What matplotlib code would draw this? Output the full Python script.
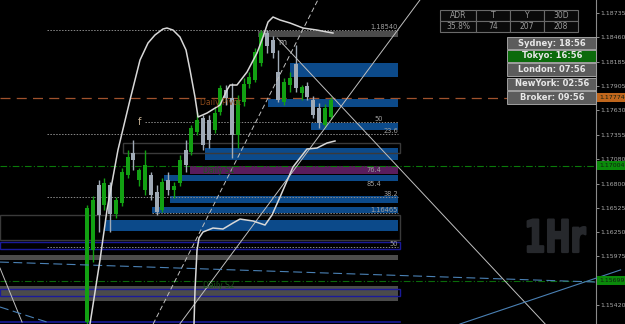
import matplotlib
matplotlib.use("Agg")
import matplotlib.pyplot as plt
from matplotlib.patches import Rectangle
from matplotlib.transforms import blended_transform_factory, Affine2D
from matplotlib import patheffects
import numpy as np

# ---------------- data ----------------
opens = [1.15228, 1.16046, 1.16783, 1.16556, 1.16783, 1.16454, 1.16579, 1.16897, 1.17147, 1.16840,
         1.16727, 1.16897, 1.16704, 1.16500, 1.16840, 1.16727, 1.16806, 1.17181, 1.17158, 1.17385,
         1.17544, 1.17521, 1.17408, 1.17612, 1.17862, 1.17771, 1.17351, 1.17725, 1.17930, 1.17975,
         1.18168, 1.18508, 1.18429, 1.18066, 1.17725, 1.17918, 1.18157, 1.17827, 1.17907, 1.17748,
         1.17657, 1.17464, 1.17555]
highs = [1.16556, 1.16659, 1.16840, 1.16863, 1.16817, 1.16647, 1.16976, 1.17181, 1.17294, 1.16976,
         1.17181, 1.16931, 1.16783, 1.16863, 1.16931, 1.16817, 1.17124, 1.17294, 1.17464, 1.17612,
         1.17578, 1.17578, 1.17657, 1.17918, 1.17918, 1.17941, 1.17805, 1.17998, 1.18066, 1.18338,
         1.18542, 1.18542, 1.18474, 1.18316, 1.17998, 1.18066, 1.18372, 1.17918, 1.17952, 1.17793,
         1.17714, 1.17703, 1.17782]
lows = [1.15209, 1.15909, 1.16250, 1.16500, 1.16250, 1.16409, 1.16545, 1.16863, 1.16954, 1.16772,
        1.16670, 1.16613, 1.16443, 1.16477, 1.16670, 1.16636, 1.16772, 1.16931, 1.17124, 1.17351,
        1.17181, 1.17203, 1.17374, 1.17578, 1.17691, 1.17090, 1.17203, 1.17680, 1.17884, 1.17952,
        1.18134, 1.18281, 1.18225, 1.17725, 1.17691, 1.17839, 1.17839, 1.17748, 1.17748, 1.17544,
        1.17430, 1.17430, 1.17532]
closes = [1.16522, 1.16613, 1.16443, 1.16806, 1.16454, 1.16613, 1.16931, 1.17101, 1.17067, 1.16954,
          1.17010, 1.16670, 1.16477, 1.16817, 1.16727, 1.16772, 1.17067, 1.17010, 1.17430, 1.17521,
          1.17237, 1.17294, 1.17600, 1.17884, 1.17771, 1.17351, 1.17748, 1.17930, 1.18009, 1.18293,
          1.18508, 1.18361, 1.18281, 1.17748, 1.17952, 1.17998, 1.17884, 1.17896, 1.17782, 1.17578,
          1.17487, 1.17657, 1.17748]

price_ticks = [1.18735, 1.18460, 1.18185, 1.17905, 1.17630, 1.17355, 1.17080,
               1.16800, 1.16525, 1.16250, 1.15975, 1.15420]
pivot_price = 1.17774
s1_price = 1.17004
s2_price = 1.15699

# filled zones: start bar, end bar, low, high, kind
zone_start = [29.5, 35.0, 31.2, 38.6, 20.3, 17.8, 13.3, 14.3, 11.2, 3.1, -15, -15]
zone_end   = [53.6, 53.6, 53.6, 53.6, 53.6, 53.6, 53.6, 53.6, 53.6, 53.6, 53.6, 53.6]
zone_low   = [1.18463, 1.18009, 1.17669, 1.17408, 1.17067, 1.16908, 1.16829, 1.16579, 1.16465, 1.16261, 1.15932, 1.15467]
zone_high  = [1.18531, 1.18168, 1.17759, 1.17487, 1.17203, 1.16999, 1.16897, 1.16659, 1.16534, 1.16386, 1.15989, 1.15637]
zone_kind  = ["gray", "blue", "blue", "blue", "blue", "purple", "blue", "blue", "blue", "blue", "gray", "gray"]

# outlined boxes: start, end, low, high, kind
box_start = [6.2, -15, -15, -15]
box_end   = [54.0, 54.0, 54.0, 54.0]
box_low   = [1.17147, 1.16159, 1.16057, 1.15523]
box_high  = [1.17260, 1.16443, 1.16136, 1.15603]
box_kind  = ["dark", "dark", "navy", "navy"]

# fibonacci levels: price, start bar, label
fib_price = [1.18540, 1.17498, 1.17362, 1.16647, 1.16465, 1.16080]
fib_start = [-6.9, 10.0, -6.9, -6.9, 11.2, -6.9]
fib_label = ["1.18540", "50", "23.6", "38.2", "1.16465", "50"]

# trend lines (bar, price) pairs
trend_solid_gray = [([32.8, 79.0], [1.18452, 1.15206]),
                    ([16.0, 57.4], [1.15206, 1.18883]),
                    ([-15.0, -11.2], [1.15841, 1.15228])]
trend_dashed_gray = [([11.4, 39.8], [1.15206, 1.18883])]
trend_blue_solid = [([64.3, 92.0], [1.15206, 1.15820])]
trend_blue_dashed = [([-15.0, 87.8], [1.15909, 1.15682]),
                     ([-15.0, -6.9], [1.15399, 1.15228])]

upper_env_x = [0.52, 2.24, 3.45, 5.34, 7.41, 9.14, 10.52, 11.72, 13.10, 13.79, 14.83, 16.03, 17.07,
               17.76, 18.62, 19.14, 20.69, 22.93, 24.14, 24.66, 25.86, 27.59, 29.31, 30.34, 31.21,
               32.07, 33.28, 35.00, 37.24, 39.66, 41.38, 42.41]
upper_env_y = [1.15206, 1.15932, 1.16500, 1.17181, 1.17748, 1.18202, 1.18395, 1.18486, 1.18554,
               1.18565, 1.18542, 1.18463, 1.18316, 1.18089, 1.17782, 1.17555, 1.17600, 1.17691,
               1.17862, 1.17918, 1.17918, 1.18066, 1.18281, 1.18463, 1.18633, 1.18690, 1.18656,
               1.18622, 1.18565, 1.18542, 1.18520, 1.18508]
lower_env_x = [18.45, 18.62, 18.97, 19.31, 20.00, 21.72, 23.45, 25.17, 26.38, 28.62, 30.69, 31.90,
               33.28, 35.52, 37.93, 39.66, 41.38, 42.76]
lower_env_y = [1.15206, 1.15591, 1.16046, 1.16182, 1.16250, 1.16295, 1.16284, 1.16352, 1.16397,
               1.16375, 1.16329, 1.16443, 1.16647, 1.16988, 1.17192, 1.17203, 1.17260, 1.17283]

table_head = ["ADR", "T", "Y", "30D"]
table_vals = ["35.8%", "74", "207", "208"]
sessions = ["Sydney: 18:56", "Tokyo: 16:56", "London: 07:56", "NewYork: 02:56", "Broker: 09:56"]
session_active = [False, True, False, False, False]


class Squeeze(patheffects.AbstractPathEffect):
    """Narrow (and embolden) the glyphs horizontally around a display x position."""
    def __init__(self, sx, cx, stroke, color):
        super().__init__()
        self.sx, self.cx, self.stroke, self.color = sx, cx, stroke, color

    def draw_path(self, renderer, gc, tpath, affine, rgbFace=None):
        t = affine + Affine2D().translate(-self.cx, 0).scale(self.sx, 1).translate(self.cx, 0)
        gc0 = renderer.new_gc()
        gc0.copy_properties(gc)
        gc0.set_linewidth(self.stroke)
        gc0.set_foreground(self.color)
        renderer.draw_path(gc0, tpath, t, rgbFace)
        gc0.restore()


# ---------------- figure ----------------
W, H = 625, 324
fig = plt.figure(figsize=(W / 100, H / 100), dpi=100, facecolor="black")
ax = fig.add_axes([0, 0, 596 / W, 1])
ax.set_facecolor("black")
ax.set_xlim(-15, 87.76)
ax.set_ylim(1.15206, 1.18883)

for side in ["top", "left", "bottom"]:
    ax.spines[side].set_visible(False)
ax.spines["right"].set_color("#8a8a8a")
ax.spines["right"].set_linewidth(0.8)
ax.set_xticks([])
ax.yaxis.tick_right()
ax.set_yticks(price_ticks)
ax.set_yticklabels([f"{v:.5f}" for v in price_ticks])
ax.tick_params(axis="y", colors="#a8a8a8", labelsize=4.5, length=2, width=0.6, pad=1)

zcol = {"gray": "#4b4b4b", "blue": "#0c4a8a", "purple": "#5a1c5c"}
for x0, x1, lo, hi, k in zip(zone_start, zone_end, zone_low, zone_high, zone_kind):
    ax.add_patch(Rectangle((x0, lo), x1 - x0, hi - lo, facecolor=zcol[k], edgecolor="none", zorder=1))
bcol = {"dark": "#3a3a3a", "navy": "#1a1a9a"}
for x0, x1, lo, hi, k in zip(box_start, box_end, box_low, box_high, box_kind):
    ax.add_patch(Rectangle((x0, lo), x1 - x0, hi - lo, facecolor="none", edgecolor=bcol[k],
                           linewidth=1.0, zorder=1.5))
# bottom navy line
ax.axhline(1.15228, xmin=0, xmax=(54 + 15) / (87.76 + 15), color="#1a1a9a", lw=1.2, zorder=1.5)

# fib dotted lines
for p, x0, lab in zip(fib_price, fib_start, fib_label):
    ax.plot([x0, 53.6], [p, p], color="#8a8a8a", lw=0.7, ls=(0, (1.5, 1.5)), zorder=2)
    xr = 51.0 if lab == "50" and p > 1.17 else 53.6
    ax.text(xr, p + 0.00004, lab, color="#a0a0a0", fontsize=4.8, ha="right", va="bottom", zorder=5)
ax.text(50.7, 1.16958, "76.4", color="#a0a0a0", fontsize=4.8, ha="right", va="center", zorder=5)
ax.text(50.7, 1.16790, "85.4", color="#a0a0a0", fontsize=4.8, ha="right", va="center", zorder=5)
ax.text(9.1, 1.17498, "f", color="#c0ac90", fontsize=7, ha="center", va="center", zorder=5)
ax.text(33.6, 1.18406, "m", color="#a8a8a8", fontsize=6, ha="center", va="center", zorder=5)

# pivot lines
ax.axhline(pivot_price, color="#a0522d", lw=0.9, ls=(0, (8, 5)), zorder=2)
ax.axhline(s1_price, color="#0a7a0a", lw=0.8, ls=(0, (6, 2, 1, 2)), zorder=2)
ax.axhline(s2_price, color="#0a6a0a", lw=0.8, ls=(0, (6, 2, 1, 2)), zorder=2)
ax.text(19.5, pivot_price - 0.00008, "Daily Pivot", color="#8b4a1a", fontsize=5.5, ha="left", va="top", zorder=5)
ax.text(20.0, s1_price - 0.00008, "Daily S1", color="#1a5a1a", fontsize=5.5, ha="left", va="top", zorder=5)
ax.text(20.0, s2_price - 0.00008, "Daily S2", color="#1a5a1a", fontsize=5.5, ha="left", va="top", zorder=5)

# candles
x = np.arange(len(opens))
for i in x:
    o, h, l, c = opens[i], highs[i], lows[i], closes[i]
    col = "#12a012" if c >= o else "#a0aab6"
    ax.vlines(i, l, h, color=col, lw=1.0, zorder=3)
    ax.bar(i, max(abs(c - o), 0.00004), bottom=min(o, c), width=0.68, color=col, zorder=3, linewidth=0)

# trend lines
for xs, ys in trend_solid_gray:
    ax.plot(xs, ys, color="#c0c0c0", lw=0.7, zorder=4)
for xs, ys in trend_dashed_gray:
    ax.plot(xs, ys, color="#c0c0c0", lw=0.7, ls=(0, (5, 3)), zorder=4)
for xs, ys in trend_blue_solid:
    ax.plot(xs, ys, color="#4a80b4", lw=0.8, zorder=4, clip_on=False)
for xs, ys in trend_blue_dashed:
    ax.plot(xs, ys, color="#4a80b4", lw=0.8, ls=(0, (8, 4)), zorder=4)
ax.plot(upper_env_x, upper_env_y, color="#d8d8d8", lw=1.1, zorder=4)
ax.plot(lower_env_x, lower_env_y, color="#d8d8d8", lw=1.1, zorder=4)

# price labels on axis
bt = blended_transform_factory(ax.transAxes, ax.transData)
for p, fc in [(pivot_price, "#c0661c"), (s1_price, "#0a8a0a"), (s2_price, "#0a8a0a")]:
    ax.text(1.0 + 3 / 596, p, f"{p:.5f}", transform=bt, ha="left", va="center", fontsize=4.5,
            color="#102010", clip_on=False, zorder=6,
            bbox=dict(boxstyle="square,pad=0.3", fc=fc, ec="none"))

# 1Hr watermark
fig.text(555 / W, 1 - 252 / H, "1Hr", ha="center", va="baseline", fontsize=32, fontweight="bold",
         family="DejaVu Sans", color="#26282c", zorder=0.5,
         path_effects=[Squeeze(0.68, 555, 1.6, "#26282c")])

# table
cols = [440, 476, 510, 544, 578]
rows = [10, 21, 32]
for r, texts in enumerate([table_head, table_vals]):
    for c_, t in enumerate(texts):
        x0, x1 = cols[c_], cols[c_ + 1]
        y0, y1 = rows[r], rows[r + 1]
        fig.add_artist(Rectangle((x0 / W, 1 - y1 / H), (x1 - x0) / W, (y1 - y0) / H,
                                 transform=fig.transFigure, facecolor="#0a0a0a",
                                 edgecolor="#6a6a6a", linewidth=0.8))
        fig.text((x0 + x1) / 2 / W, 1 - (y0 + y1) / 2 / H, t, ha="center", va="center",
                 fontsize=5.5, color="#9a9a9a")

# session boxes
srows = [(37, 49), (50, 62), (63, 76), (78, 90), (91, 104)]
for (y0, y1), t, act in zip(srows, sessions, session_active):
    fig.add_artist(Rectangle((507 / W, 1 - y1 / H), 89 / W, (y1 - y0) / H, transform=fig.transFigure,
                             facecolor="#0b6a0b" if act else "#5c5c5c", edgecolor="#a0a0a0",
                             linewidth=0.7))
    fig.text(552 / W, 1 - (y0 + y1) / 2 / H, t, ha="center", va="center", fontsize=6,
             fontweight="bold", color="#e8e8e8")

fig.savefig("out.png", dpi=100, facecolor="black")
